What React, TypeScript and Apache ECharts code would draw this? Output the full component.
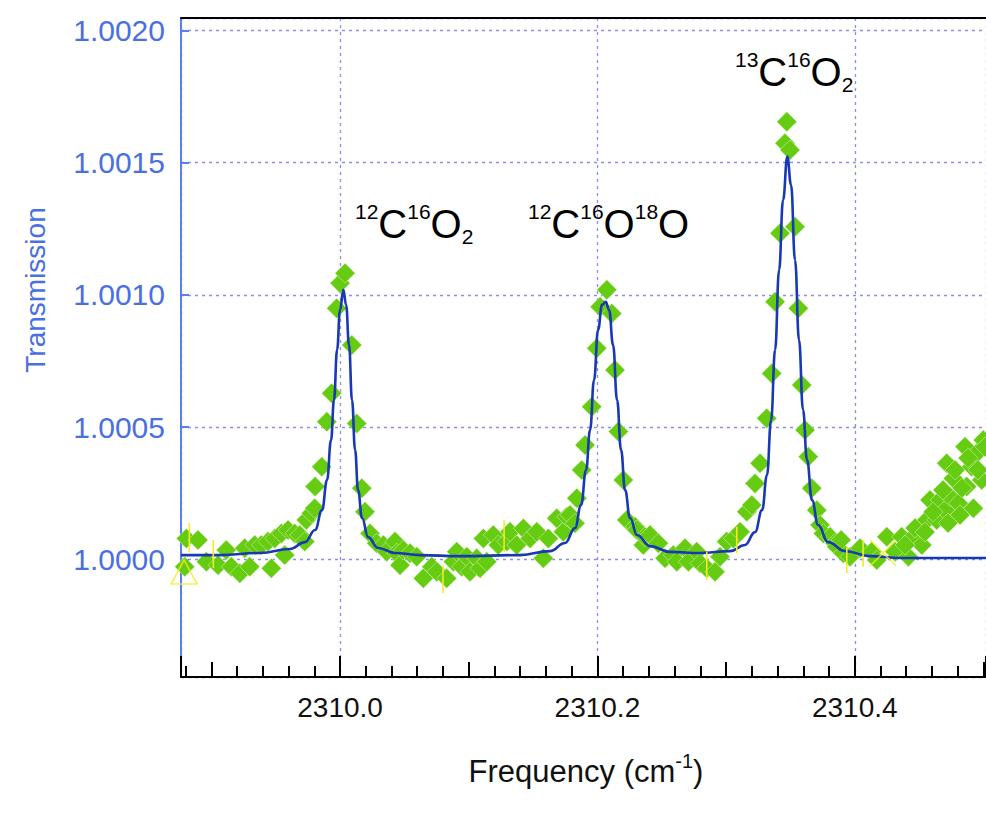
import React, { useEffect, useRef } from "react";
import * as echarts from "echarts";

// Measured transmission (green diamonds)
const measFreq = [
  2309.8806, 2309.8896, 2309.8793, 2309.8961, 2309.9052, 2309.9116, 2309.9155, 2309.9221, 2309.9259, 2309.9298,
  2309.9337, 2309.9388, 2309.944, 2309.9466, 2309.9493, 2309.9544, 2309.957, 2309.9596, 2309.9648, 2309.9687,
  2309.9726, 2309.9738, 2309.9777, 2309.9803, 2309.9806, 2309.9858, 2309.9897, 2309.9935, 2309.9974, 2310.0,
  2310.0039, 2310.0091, 2310.013, 2310.0169, 2310.0194, 2310.0233, 2310.0285, 2310.0337, 2310.0363, 2310.0427,
  2310.0441, 2310.0466, 2310.0492, 2310.0544, 2310.0596, 2310.0647, 2310.0713, 2310.0752, 2310.0829, 2310.0881,
  2310.0907, 2310.0946, 2310.0985, 2310.101, 2310.1062, 2310.1088, 2310.1114, 2310.114, 2310.1191, 2310.123,
  2310.1296, 2310.1321, 2310.1373, 2310.1425, 2310.1477, 2310.1529, 2310.158, 2310.1619, 2310.1684, 2310.1735,
  2310.1762, 2310.1787, 2310.1826, 2310.184, 2310.1878, 2310.1904, 2310.1956, 2310.1995, 2310.2021, 2310.2073,
  2310.2112, 2310.2137, 2310.2163, 2310.2202, 2310.2228, 2310.2293, 2310.2306, 2310.2357, 2310.237, 2310.2409,
  2310.2474, 2310.2526, 2310.259, 2310.2617, 2310.2681, 2310.2707, 2310.2772, 2310.2798, 2310.285, 2310.2914,
  2310.2953, 2310.3005, 2310.3057, 2310.3109, 2310.3161, 2310.32, 2310.3225, 2310.3264, 2310.3316, 2310.3355,
  2310.3381, 2310.3419, 2310.3458, 2310.3472, 2310.3497, 2310.3536, 2310.3562, 2310.3588, 2310.3614, 2310.3639,
  2310.3666, 2310.3705, 2310.373, 2310.3756, 2310.3808, 2310.3847, 2310.386, 2310.3911, 2310.3894, 2310.3963,
  2310.4041, 2310.4132, 2310.4171, 2310.4249, 2310.4313, 2310.4365, 2310.4417, 2310.4443, 2310.4521, 2310.456,
  2310.4585, 2310.4637, 2310.4663, 2310.4702, 2310.4715, 2310.4741, 2310.4766, 2310.4805, 2310.4857, 2310.487,
  2310.4909, 2310.4922, 2310.4948, 2310.4987, 2310.4999, 2310.4391, 2310.4469, 2310.4546, 2310.4609, 2310.4686,
  2310.478, 2310.4834, 2310.4881, 2310.4958, 2310.5013, 2310.4818, 2310.4725,
];
const measTrans = [
  1.000079, 1.000073, 0.999972, 0.999991, 0.999978, 1.000035, 0.999972, 0.999947, 1.000042, 0.999972,
  1.000054, 1.000054, 1.000067, 0.999966, 1.000079, 1.000098, 1.000016, 1.000111, 1.000098, 1.000092,
  1.000067, 1.000149, 1.000174, 1.000193, 1.000275, 1.00035, 1.00052, 1.000628, 1.000949, 1.001044,
  1.001082, 1.00081, 1.000514, 1.000269, 1.00018, 1.000098, 1.000061, 1.000054, 1.000029, 1.000067,
  1.000023, 0.999978, 1.000035, 1.000023, 1.00001, 0.999928, 0.999972, 0.999953, 0.999928, 0.999991,
  1.000029, 0.999972, 1.00001, 0.999953, 1.000004, 0.999966, 1.000079, 0.999991, 1.000092, 1.000054,
  1.000067, 1.000104, 1.000054, 1.000117, 1.000079, 1.000104, 1.000004, 1.000079, 1.000155, 1.000104,
  1.000161, 1.000168, 1.000136, 1.000231, 1.000338, 1.000432, 1.000577, 1.000798, 1.000955, 1.001019,
  1.00093, 1.000716, 1.000483, 1.0003, 1.000149, 1.000123, 1.000111, 1.000054, 1.000085, 1.000092,
  1.000061, 1.000004, 1.000016, 0.999991, 1.000042, 0.999991, 1.000029, 0.999985, 0.999966, 0.999953,
  1.00001, 1.000067, 1.000079, 1.000104, 1.00018, 1.000205, 1.000287, 1.000363, 1.000533, 1.000703,
  1.000974, 1.001233, 1.001573, 1.001655, 1.001548, 1.001258, 1.000949, 1.000659, 1.000489, 1.000388,
  1.000269, 1.000186, 1.00013, 1.000098, 1.000085, 1.000061, 1.000048, 1.000023, 1.000073, 1.00001,
  1.000042, 1.000029, 0.999997, 1.000085, 1.000029, 1.000085, 1.00001, 1.000079, 1.000054, 1.000149,
  1.000224, 1.000149, 1.000224, 1.000186, 1.000363, 1.000237, 1.000306, 1.000212, 1.000426, 1.000275,
  1.00035, 1.000193, 1.000401, 1.0003, 1.000451, 1.000054, 1.000118, 1.000103, 1.000179, 1.000262,
  1.000338, 1.00027, 1.000383, 1.000338, 1.000425, 1.000168, 1.000137,
];

// Fitted curve (blue line)
const fitFreq = [
  2309.8764, 2309.9067, 2309.9378, 2309.9611, 2309.9728, 2309.9806, 2309.986, 2309.9899, 2309.993, 2309.9953,
  2309.9977, 2310.0, 2310.0026, 2310.0047, 2310.007, 2310.0093, 2310.0117, 2310.014, 2310.0171, 2310.0218,
  2310.0295, 2310.0427, 2310.0622, 2310.0933, 2310.1399, 2310.1632, 2310.1749, 2310.1826, 2310.1873, 2310.1912,
  2310.1943, 2310.1974, 2310.2005, 2310.2036, 2310.2065, 2310.2091, 2310.2122, 2310.2153, 2310.2184, 2310.2215,
  2310.2254, 2310.2308, 2310.2409, 2310.2565, 2310.2798, 2310.3031, 2310.3147, 2310.3225, 2310.328, 2310.3318,
  2310.335, 2310.3381, 2310.3412, 2310.3443, 2310.3476, 2310.3505, 2310.3536, 2310.3567, 2310.3598, 2310.3629,
  2310.3668, 2310.3715, 2310.3793, 2310.3925, 2310.4119, 2310.4352, 2310.502,
];
const fitTrans = [
  1.000016, 1.000016, 1.000024, 1.000039, 1.000065, 1.000111, 1.000186, 1.0003, 1.000451, 1.000602,
  1.000792, 1.000943, 1.001019, 1.000962, 1.00081, 1.000602, 1.000413, 1.000262, 1.000156, 1.000084,
  1.000043, 1.000024, 1.000016, 1.000012, 1.000016, 1.000031, 1.000062, 1.000118, 1.000205, 1.000338,
  1.000489, 1.000678, 1.000867, 1.000962, 1.000974, 1.000943, 1.00081, 1.000602, 1.000413, 1.000262,
  1.000156, 1.000092, 1.00005, 1.000028, 1.000024, 1.000031, 1.000054, 1.000103, 1.000186, 1.000319,
  1.000527, 1.000792, 1.001094, 1.001359, 1.001523, 1.001416, 1.001132, 1.000829, 1.000565, 1.000376,
  1.000224, 1.00013, 1.000065, 1.000031, 1.000012, 1.000005, 1.000005,
];

// Yellow error bars
const errFreq = [2309.8829, 2309.9015, 2310.08, 2310.1275, 2310.285, 2310.3083, 2310.3938, 2310.4065];
const errTrans = [1.000082, 1.00002, 0.999925, 1.000088, 0.999975, 1.000073, 0.999997, 1.000022];
const errHalf = [0.000055, 0.000053, 0.000053, 0.00006, 0.000053, 0.00005, 0.00005, 0.00005];

// Yellow cursor markers
const cursorA = [2309.8788, 0.999952];
const cursorB = [2310.422, 1.000024];

const xMin = 2309.8764;
const xMax = 2310.502;
const yMin = 0.999555;
const yMax = 1.002047;

const FONT = "'Liberation Sans', Arial, Helvetica, sans-serif";
const BLUE_TXT = "#4a6fe3";
const GRID_CLR = "#8c8cf0";

export default function App() {
  const ref = useRef<HTMLDivElement>(null);

  useEffect(() => {
    if (!ref.current) return;
    const chart = echarts.init(ref.current, undefined, { renderer: "svg" });

    const species = (sup1: string, a: string, sup2: string, b: string, tail: string, tailIsSub: boolean) => {
      const tailPart = tailIsSub ? `{sub|${tail}}` : tail;
      return `{sup|${sup1}}{big|${a}}{sup|${sup2}}{big|${b}}${tailPart}`;
    };
    const rich = {
      big: { fontSize: 40, fontFamily: FONT, color: "#111", lineHeight: 46 },
      sup: { fontSize: 21, fontFamily: FONT, color: "#111", lineHeight: 18, verticalAlign: "top" },
      sub: { fontSize: 21, fontFamily: FONT, color: "#111", lineHeight: 22, verticalAlign: "bottom" },
    };

    chart.setOption({
      animation: false,
      backgroundColor: "#ffffff",
      grid: { left: 181, right: 0, top: 18, bottom: 137, containLabel: false },
      xAxis: [
        {
          type: "value",
          min: xMin,
          max: xMax,
          splitNumber: 3,
          position: "bottom",
          axisLine: { show: true, onZero: false, lineStyle: { color: "#000", width: 2 } },
          axisTick: { show: true, inside: true, length: 21, lineStyle: { color: "#000", width: 2 } },
          minorTick: { show: true, splitNumber: 10, length: 11, lineStyle: { color: "#000", width: 2 } },
          axisLabel: {
            show: true,
            margin: 16,
            fontSize: 28,
            fontFamily: FONT,
            color: "#111",
            showMinLabel: false,
            showMaxLabel: false,
            formatter: (v: number) => v.toFixed(1),
          },
          splitLine: { show: true, lineStyle: { color: GRID_CLR, type: [3, 4], width: 1.3 } },
        },
        {
          type: "value",
          min: xMin,
          max: xMax,
          splitNumber: 6,
          position: "bottom",
          axisLine: { show: false },
          axisTick: { show: true, inside: true, length: 15, lineStyle: { color: "#000", width: 2 } },
          axisLabel: { show: false },
          splitLine: { show: false },
        },
        {
          type: "value",
          min: xMin,
          max: xMax,
          position: "top",
          axisLine: { show: true, onZero: false, lineStyle: { color: "#000", width: 2 } },
          axisTick: { show: false },
          axisLabel: { show: false },
          splitLine: { show: false },
        },
      ],
      yAxis: {
        type: "value",
        min: yMin,
        max: yMax,
        splitNumber: 5,
        axisLine: { show: true, onZero: false, lineStyle: { color: "#5b7ff0", width: 2 } },
        axisTick: { show: true, inside: true, length: 8, lineStyle: { color: "#5b7ff0", width: 2 } },
        axisLabel: {
          show: true,
          margin: 16,
          fontSize: 30,
          fontFamily: FONT,
          color: BLUE_TXT,
          showMinLabel: false,
          showMaxLabel: false,
          formatter: (v: number) => v.toFixed(4),
        },
        splitLine: { show: true, lineStyle: { color: GRID_CLR, type: [3, 4], width: 1.3 } },
      },
      series: [
        {
          type: "scatter",
          name: "measured",
          symbol: "diamond",
          symbolSize: 20,
          itemStyle: { color: "#66cc11", borderColor: "#dff5c8", borderWidth: 0.5, opacity: 1 },
          data: measFreq.map((f, i) => [f, measTrans[i]]),
          z: 2,
        },
        {
          type: "line",
          name: "fit",
          showSymbol: false,
          smooth: 0.45,
          smoothMonotone: "x",
          lineStyle: { color: "#1838b4", width: 2.6 },
          data: fitFreq.map((f, i) => [f, fitTrans[i]]),
          z: 3,
        },
        {
          type: "custom",
          name: "errors",
          renderItem: (_p: any, api: any) => {
            const x = api.value(0);
            const y = api.value(1);
            const e = api.value(2);
            const a = api.coord([x, y - e]);
            const b = api.coord([x, y + e]);
            return {
              type: "line",
              shape: { x1: a[0], y1: a[1], x2: b[0], y2: b[1] },
              style: { stroke: "#f2ee22", lineWidth: 1.6 },
            };
          },
          data: errFreq.map((f, i) => [f, errTrans[i], errHalf[i]]),
          z: 4,
        },
        {
          type: "scatter",
          name: "cursorA",
          symbol: "triangle",
          symbolSize: [26, 24],
          itemStyle: { color: "rgba(0,0,0,0)", borderColor: "#f2ee22", borderWidth: 1.6 },
          data: [cursorA],
          z: 5,
        },
        {
          type: "scatter",
          name: "cursorB",
          symbol: "path://M0,0L10,10M10,0L0,10",
          symbolSize: 26,
          itemStyle: { color: "rgba(0,0,0,0)", borderColor: "#f2ee22", borderWidth: 1.6 },
          data: [cursorB],
          z: 5,
        },
      ],
      graphic: [
        {
          type: "text",
          x: 35,
          y: 290,
          rotation: Math.PI / 2,
          style: {
            text: "Transmission",
            fontSize: 28,
            fontFamily: FONT,
            fill: BLUE_TXT,
            textAlign: "center",
            textVerticalAlign: "middle",
          },
        },
        {
          type: "text",
          x: 586,
          y: 771,
          style: {
            text: "{n|Frequency (cm}{s|-1}{n|)}",
            textAlign: "center",
            textVerticalAlign: "middle",
            rich: {
              n: { fontSize: 31, fontFamily: FONT, fill: "#111", color: "#111", lineHeight: 40 },
              s: { fontSize: 20, fontFamily: FONT, fill: "#111", color: "#111", lineHeight: 18, verticalAlign: "top" },
            },
          },
        },
        {
          type: "text",
          x: 355,
          y: 224,
          style: { text: species("12", "C", "16", "O", "2", true), rich, textVerticalAlign: "middle" },
        },
        {
          type: "text",
          x: 528,
          y: 224,
          style: { text: species("12", "C", "16", "O", "{sup|18}{big|O}", false), rich, textVerticalAlign: "middle" },
        },
        {
          type: "text",
          x: 735,
          y: 72,
          style: { text: species("13", "C", "16", "O", "2", true), rich, textVerticalAlign: "middle" },
        },
      ],
    });

    return () => chart.dispose();
  }, []);

  return (
    <div
      ref={ref}
      style={{ position: "absolute", left: 0, top: 0, width: 986, height: 814, background: "#fff" }}
    />
  );
}
